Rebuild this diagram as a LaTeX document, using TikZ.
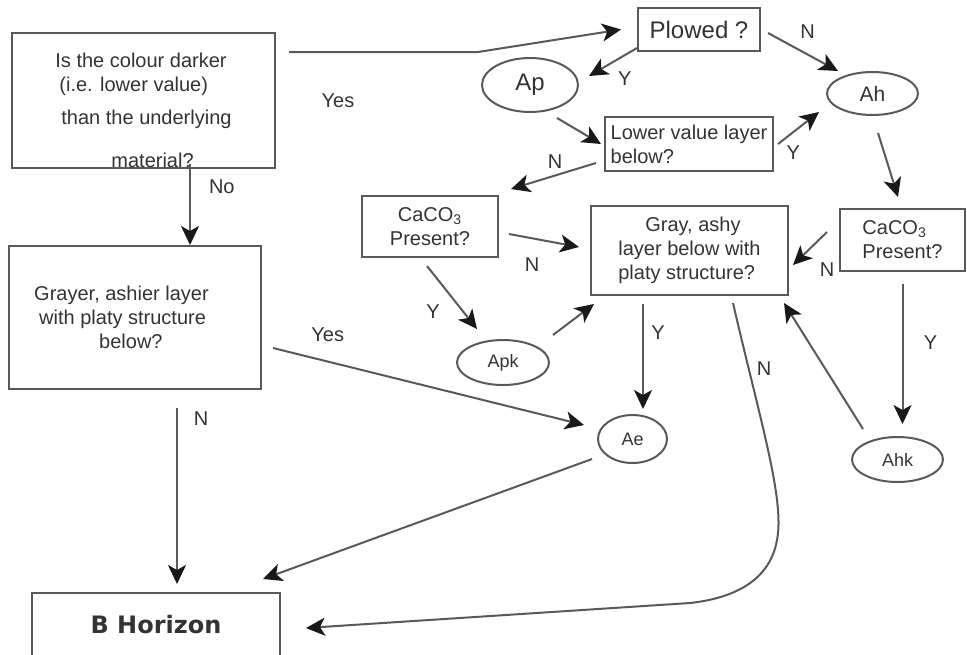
\documentclass[tikz,border=0pt]{standalone}
\usepackage{fontspec}
\setmainfont{Liberation Sans}
\newfontfamily\horizonfont{DejaVu Sans}
\usetikzlibrary{arrows.meta,shapes.geometric}

\begin{document}
\begin{tikzpicture}[
x=0.5pt, y=-0.5pt,
every node/.style={text=black!80, inner sep=0pt},
question/.style={draw=black!65, line width=1pt, rectangle},
horizon/.style={draw=black!65, line width=1pt, ellipse},
small/.style={font=\fontsize{9}{11}\selectfont},
big/.style={font=\fontsize{12}{14}\selectfont},
lbl/.style={text=black!80},
arr/.style={draw=black!65, line width=1pt, -{Stealth[length=9.5pt, width=9pt, inset=2.5pt, color=black!90]}}]
\useasboundingbox (0,0) rectangle (967,654);
\clip (0,0) rectangle (967,654);

\node[question, minimum width=131.5pt, minimum height=67.5pt, align=left] (darker) at (143.5,100.5)
	{\mbox{}\\[5.3pt]Is the colour darker\\ \hspace*{2pt}(i.e. lower value)\\[4.5pt]
	\hspace*{3pt}than the underlying\hspace*{3.5pt}\\[9.5pt] \hspace*{28pt}material?};
\node[lbl] (yes) at (338,101) {Yes};
\node[question, big, minimum width=61pt, minimum height=21.5pt] (plowed) at (699,29.5) {Plowed ?};
\node[horizon, big, minimum width=48pt, minimum height=27pt] (ap) at (530,85) {Ap};
\node[horizon, font=\fontsize{10.5}{12}\selectfont, minimum width=45.5pt, minimum height=21.5pt] (ah) at (872.5,93.5) {Ah};
\node[question, minimum width=84pt, minimum height=27pt, align=left] (lower) at (689,144) {Lower value layer\\below?};
\node[question, minimum width=68pt, minimum height=30.5pt, align=center] (cacoap) at (430,226.5) {CaCO\textsubscript{3}\\Present?};
\node[question, minimum width=62.5pt, minimum height=31pt, align=left] (cacoah) at (902.5,240) {CaCO\textsubscript{3}\\Present?};
\node[question, minimum width=98.5pt, minimum height=44.5pt, align=left] (gray) at (689.5,250.5)
	{\hspace*{13.5pt}Gray, ashy\\layer below with\hspace*{12pt}\\platy structure?};
\node[horizon, small, minimum width=46pt, minimum height=22.5pt] (apk) at (503,362.5) {Apk};
\node[question, minimum width=126pt, minimum height=71.5pt, align=left] (grayer) at (135,317.5)
	{Grayer, ashier layer\hspace*{13.5pt}\\ \hspace*{2.5pt}with platy structure\\ \hspace*{32.5pt}below?};
\node[horizon, small, minimum width=34.5pt, minimum height=24pt] (ae) at (632.5,439) {Ae};
\node[horizon, small, minimum width=45.5pt, minimum height=22.5pt] (ahk) at (897.5,459.5) {Ahk};
\node[question, font=\horizonfont\bfseries\fontsize{12}{14}\selectfont, minimum width=124pt, minimum height=32pt] (bhor) at (156,625) {B Horizon};

\draw[arr] ([xshift=6.5pt, yshift=-10pt]darker.north east) -- ++(189,0) -- ([xshift=-8pt]plowed.west);
\draw[arr] ([xshift=23.25pt, yshift=2.5pt]darker.south) -- node[lbl, pos=.28, right=9pt] (no) {No} ([xshift=27.5pt]grayer.north);
\draw[arr] ([yshift=2pt]plowed.south west) -- node[lbl, pos=.4, xshift=3.5pt, yshift=-9.7pt] (yplow) {Y} ([xshift=5pt, yshift=4.5pt]ap.east);
\draw[arr] ([xshift=3.5pt, yshift=-1.75pt]plowed.east) -- node[lbl, pos=.5, xshift=2.25pt, yshift=10.25pt] (nplow) {N} ([xshift=-17.25pt]ah.north);
\draw[arr] ([xshift=13.5pt, yshift=-2.5pt]ap.south) -- ([xshift=-1.5pt]lower.west);
\draw[arr] ([xshift=2pt]lower.east) -- node[lbl, pos=.3, xshift=1.5pt, yshift=-9.15pt] (ylow) {Y} ([xshift=-3.5pt, yshift=-9.25pt]ah.west);
\draw[arr] ([xshift=-4pt, yshift=4.5pt]lower.south west) -- node[lbl, pos=.48, yshift=6.75pt] (nlow) {N} ([xshift=6pt, yshift=3pt]cacoap.north east);
\draw[arr] ([xshift=2.75pt, yshift=-8.5pt]ah.south) -- ([xshift=-2.25pt, yshift=5.5pt]cacoah.north);
\draw[arr] ([xshift=-6pt, yshift=4pt]cacoah.west) -- node[lbl, pos=.5, xshift=8.5pt, yshift=-10.75pt] (ncah) {N} ([xshift=2pt, yshift=-7.25pt]gray.east);
\draw[arr] ([yshift=-6pt]cacoah.south) -- node[lbl, pos=.42, xshift=14pt] (ycah) {Y} ([xshift=2.5pt, yshift=6pt]ahk.north);
\draw[arr] ([xshift=-17.25pt, yshift=3.5pt]ahk.north) -- ([xshift=-2.5pt, yshift=-3.5pt]gray.south east);
\draw[arr] ([xshift=-23.25pt, yshift=-4pt]gray.south) -- node[lbl, pos=.27, xshift=7.5pt] (ygray) {Y} ([xshift=5.25pt, yshift=2.5pt]ae.north);
\draw[arr] ([xshift=21.75pt, yshift=-3.5pt]gray.south) .. controls (760,420) and (785,500) .. node[lbl, pos=.22, xshift=7pt, yshift=3pt] (ngray) {N} (777,540)
	.. controls (770,580) and (735,598) .. (690,603) -- ([xshift=12.5pt, yshift=-1.5pt]bhor.east);
\draw[arr] ([xshift=1.5pt, yshift=13.75pt]apk.east) -- ([xshift=2pt, yshift=-4pt]gray.south west);
\draw[arr] ([xshift=5pt, yshift=-3.75pt]cacoap.east) -- node[lbl, pos=.33, yshift=-13.35pt] (ncap) {N} ([xshift=-5.5pt, yshift=1.75pt]gray.west);
\draw[arr] ([xshift=-1.5pt, yshift=-4pt]cacoap.south) -- node[lbl, pos=.5, xshift=-9.5pt, yshift=-7.25pt] (ycap) {Y} ([xshift=-13pt, yshift=5pt]apk.north);
\draw[arr] ([xshift=5.5pt, yshift=-15.25pt]grayer.east) -- node[lbl, pos=.176, yshift=13.25pt] (yesgr) {Yes} ([xshift=-6.5pt, yshift=7pt]ae.west);
\draw[arr] ([xshift=21pt, yshift=-9pt]grayer.south) -- node[lbl, pos=.06, xshift=12pt] (ngr) {N} ([xshift=10.5pt, yshift=4pt]bhor.north);
\draw[arr] ([xshift=-2.5pt, yshift=-10pt]ae.west) -- ([xshift=-9pt, yshift=6.5pt]bhor.north east);
\end{tikzpicture}
\end{document}
